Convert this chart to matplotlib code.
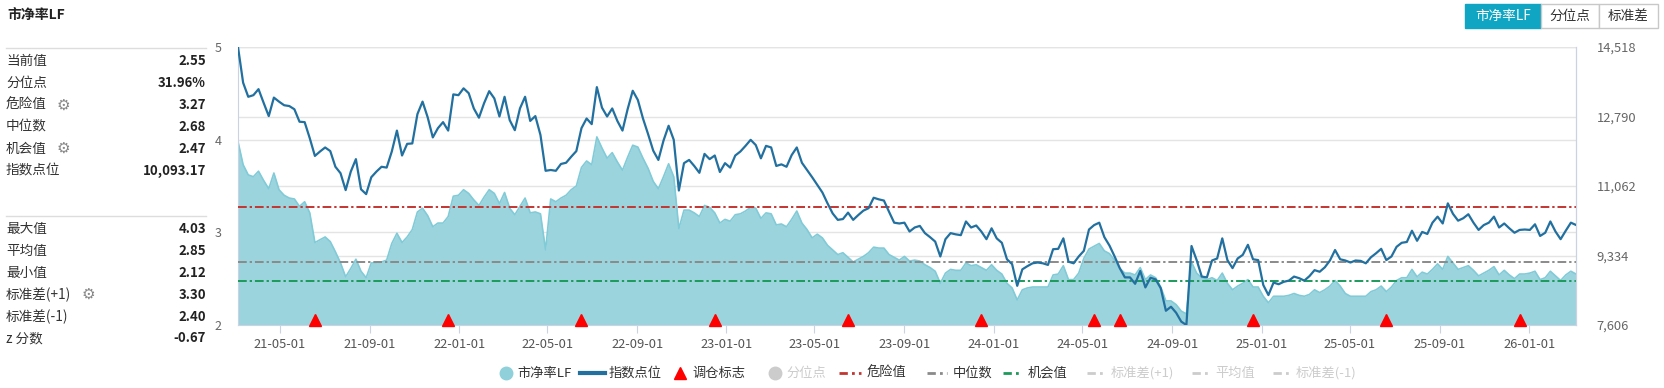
import matplotlib
matplotlib.use('Agg')
import matplotlib.pyplot as plt
import matplotlib.transforms as mtransforms
from matplotlib.lines import Line2D
from matplotlib.patches import Rectangle
import pandas as pd

plt.rcParams['font.family'] = ['Noto Sans CJK SC', 'DejaVu Sans']

# weekly PB (LF)
pb = [3.98, 3.73, 3.62, 3.60, 3.66, 3.56, 3.47, 3.64, 3.46, 3.40,
      3.37, 3.36, 3.28, 3.33, 3.21, 2.89, 2.92, 2.95, 2.90, 2.79,
      2.67, 2.52, 2.61, 2.71, 2.58, 2.51, 2.67, 2.67, 2.68, 2.70,
      2.88, 2.99, 2.89, 2.95, 3.03, 3.22, 3.26, 3.18, 3.06, 3.10,
      3.10, 3.17, 3.39, 3.40, 3.46, 3.42, 3.35, 3.29, 3.38, 3.46,
      3.42, 3.31, 3.43, 3.26, 3.19, 3.28, 3.37, 3.21, 3.22, 3.20,
      2.81, 3.36, 3.33, 3.37, 3.40, 3.46, 3.50, 3.70, 3.77, 3.73,
      4.03, 3.91, 3.80, 3.86, 3.76, 3.67, 3.81, 3.94, 3.92, 3.80,
      3.69, 3.55, 3.47, 3.60, 3.74, 3.60, 3.04, 3.24, 3.24, 3.21,
      3.17, 3.29, 3.27, 3.21, 3.10, 3.14, 3.12, 3.19, 3.20, 3.23,
      3.27, 3.26, 3.15, 3.21, 3.20, 3.08, 3.09, 3.06, 3.14, 3.23,
      3.10, 3.03, 2.94, 2.98, 2.94, 2.86, 2.81, 2.76, 2.78, 2.73,
      2.68, 2.71, 2.74, 2.78, 2.84, 2.83, 2.83, 2.76, 2.73, 2.70,
      2.74, 2.69, 2.70, 2.69, 2.65, 2.62, 2.58, 2.45, 2.56, 2.60,
      2.59, 2.59, 2.67, 2.64, 2.65, 2.62, 2.59, 2.65, 2.59, 2.55,
      2.45, 2.40, 2.27, 2.38, 2.40, 2.41, 2.41, 2.41, 2.41, 2.54,
      2.55, 2.64, 2.49, 2.49, 2.56, 2.72, 2.82, 2.85, 2.88, 2.80,
      2.77, 2.70, 2.61, 2.56, 2.56, 2.54, 2.62, 2.49, 2.54, 2.51,
      2.41, 2.26, 2.26, 2.22, 2.15, 2.12, 2.68, 2.56, 2.51, 2.49,
      2.51, 2.48, 2.56, 2.45, 2.38, 2.42, 2.45, 2.49, 2.41, 2.41,
      2.31, 2.24, 2.31, 2.31, 2.31, 2.32, 2.34, 2.32, 2.31, 2.33,
      2.38, 2.35, 2.38, 2.42, 2.48, 2.42, 2.34, 2.31, 2.31, 2.31,
      2.31, 2.36, 2.38, 2.42, 2.36, 2.41, 2.48, 2.51, 2.51, 2.60,
      2.52, 2.57, 2.55, 2.60, 2.66, 2.60, 2.74, 2.67, 2.60, 2.62,
      2.64, 2.59, 2.53, 2.56, 2.59, 2.63, 2.54, 2.59, 2.54, 2.50,
      2.55, 2.55, 2.56, 2.58, 2.49, 2.51, 2.58, 2.53, 2.48, 2.54,
      2.58, 2.55]

# weekly index close
idx = [14518, 13630, 13280, 13320, 13470, 13130, 12800, 13260, 13160, 13070,
       13050, 12970, 12660, 12650, 12250, 11810, 11920, 12020, 11930, 11540,
       11380, 10960, 11420, 11730, 10980, 10860, 11280, 11420, 11540, 11520,
       11920, 12440, 11820, 12110, 12120, 12850, 13160, 12770, 12270, 12500,
       12650, 12440, 13340, 13320, 13490, 13370, 12990, 12760, 13120, 13420,
       13240, 12790, 13280, 12700, 12450, 12990, 13280, 12680, 12800, 12330,
       11440, 11460, 11440, 11610, 11640, 11790, 11930, 12500, 12740, 12600,
       13520, 13010, 12790, 12990, 12680, 12440, 12970, 13430, 13200, 12740,
       12350, 11940, 11710, 12190, 12560, 12210, 10950, 11630, 11710, 11560,
       11390, 11860, 11730, 11820, 11410, 11630, 11520, 11820, 11920, 12060,
       12210, 12080, 11750, 12060, 12020, 11560, 11600, 11540, 11830, 12020,
       11640, 11460, 11280, 11090, 10900, 10630, 10380, 10220, 10240, 10400,
       10220, 10340, 10450, 10510, 10770, 10730, 10700, 10420, 10150, 10130,
       10150, 9930, 10030, 10070, 9890, 9790, 9680, 9310, 9740, 9890,
       9860, 9840, 10180, 10030, 10080, 9930, 9740, 10010, 9760, 9650,
       9240, 9120, 8580, 8990, 9070, 9140, 9160, 9140, 9100, 9490,
       9500, 9760, 9180, 9140, 9310, 9450, 9980, 10090, 10150, 9790,
       9580, 9310, 9020, 8790, 8790, 8630, 8950, 8540, 8780, 8740,
       8520, 7960, 8060, 7910, 7690, 7606, 9570, 9220, 8810, 8790,
       9210, 9260, 9760, 9220, 9020, 9260, 9350, 9600, 9240, 9220,
       8600, 8350, 8660, 8620, 8680, 8710, 8810, 8770, 8710, 8820,
       8970, 8930, 9040, 9210, 9470, 9240, 9210, 9160, 9210, 9200,
       9140, 9290, 9390, 9500, 9220, 9310, 9550, 9650, 9670, 9950,
       9700, 9920, 9870, 10150, 10300, 10130, 10630, 10370, 10200, 10260,
       10360, 10150, 9970, 10090, 10150, 10300, 10030, 10130, 10010, 9900,
       9970, 9980, 9970, 10110, 9820, 9900, 10180, 9930, 9740, 9950,
       10150, 10093.17]

dates = pd.date_range('2021-03-05', periods=len(pb), freq='7D')
rebalance = pd.to_datetime(['2021-06-18', '2021-12-17', '2022-06-17', '2022-12-16',
                            '2023-06-16', '2023-12-15', '2024-05-17', '2024-06-21',
                            '2024-12-20', '2025-06-20', '2025-12-19'])

danger, median, chance = 3.27, 2.68, 2.47
pb_ticks = [2, 3, 4, 5]
idx_ticks = [7606, 9334, 11062, 12790, 14518]
x_ticks = pd.date_range('2021-05-01', '2026-01-01', freq='4MS')

stats_top = [('当前值', '2.55'), ('分位点', '31.96%'), ('危险值', '3.27'),
             ('中位数', '2.68'), ('机会值', '2.47'), ('指数点位', '10,093.17')]
stats_bottom = [('最大值', '4.03'), ('平均值', '2.85'), ('最小值', '2.12'),
                ('标准差(+1)', '3.30'), ('标准差(-1)', '2.40'), ('z 分数', '-0.67')]
gear_x = {'危险值': 63, '机会值': 63, '标准差(+1)': 88}

W, H = 1664, 388
def fx(p):
    return p / W
def fy(p):
    return 1 - p / H

AXIS_C = '#c9d3e2'
TEAL = '#0fa5c3'

fig = plt.figure(figsize=(W / 100, H / 100), dpi=100, facecolor='white')
ax = fig.add_axes([fx(238), fy(325), fx(1576) - fx(238), fy(47) - fy(325)])

# grid (both scales), kept behind the area
for t in pb_ticks[1:]:
    ax.axhline(t, color='#e4e4e4', lw=1, zorder=0)
for t in idx_ticks[1:]:
    f = (t - idx_ticks[0]) / (idx_ticks[-1] - idx_ticks[0])
    ax.plot([0, 1], [f, f], transform=ax.transAxes, color='#e4e4e4', lw=1, zorder=0)

ax.fill_between(dates, pb, pb_ticks[0], color='#9cd4de', lw=0, zorder=1)
ax.plot(dates, pb, color='#80cbd7', lw=1.2, zorder=2)

dd = (4.5, 1.5, 1.2, 1.5)
ax.axhline(danger, color='#c23531', lw=1.4, dashes=dd, zorder=3)
ax.axhline(median, color='#8a8a8a', lw=1.4, dashes=dd, zorder=3)
ax.axhline(chance, color='#1d9a5b', lw=1.4, dashes=dd, zorder=3)

up = ax.transData + mtransforms.ScaledTranslation(0, 3.5 / 72, fig.dpi_scale_trans)
ax.plot(rebalance, [pb_ticks[0]] * len(rebalance), ls='none', marker='^', ms=8,
        color='#ff0000', transform=up, clip_on=False, zorder=6)

ax.set_xlim(dates[0], dates[-1])
ax.set_ylim(pb_ticks[0], pb_ticks[-1])
ax.set_yticks(pb_ticks)
ax.set_yticklabels([str(t) for t in pb_ticks])
ax.set_xticks(x_ticks)
ax.set_xticklabels([d.strftime('%y-%m-%d') for d in x_ticks])
ax.tick_params(axis='y', length=0, pad=12, labelsize=9, labelcolor='#666')
ax.tick_params(axis='x', length=6, color=AXIS_C, pad=3, labelsize=9.3, labelcolor='#555')
ax.spines['top'].set_visible(False)
for s in ['bottom', 'left', 'right']:
    ax.spines[s].set_color(AXIS_C)

ax2 = ax.twinx()
ax2.plot(dates, idx, color='#22709f', lw=1.6, zorder=4)
ax2.set_ylim(idx_ticks[0], idx_ticks[-1])
ax2.set_yticks(idx_ticks)
ax2.set_yticklabels([f'{t:,}' for t in idx_ticks])
ax2.tick_params(axis='y', length=0, pad=15, labelsize=9.3, labelcolor='#666')
for s in ['top', 'bottom', 'left']:
    ax2.spines[s].set_visible(False)
ax2.spines['right'].set_color(AXIS_C)

# left stats panel
fig.text(fx(7), fy(15), '市净率LF', fontsize=10, fontweight='bold', color='#222', va='center')
for y0, rows in [(61, stats_top), (229, stats_bottom)]:
    fig.add_artist(Line2D([fx(6), fx(206)], [fy(y0 - 13), fy(y0 - 13)], color='#dddddd', lw=1))
    for k, (lab, val) in enumerate(rows):
        y = y0 + 21.9 * k
        fig.text(fx(6), fy(y), lab, fontsize=9.8, color='#333', va='center')
        fig.text(fx(206), fy(y), val, fontsize=9.5, fontweight='bold', color='#222',
                 va='center', ha='right')
        if lab in gear_x:
            fig.text(fx(gear_x[lab]), fy(y), '⚙', family='DejaVu Sans', fontsize=11,
                     color='#888', va='center', ha='center')

# buttons
buttons = [('市净率LF', 1465, 1541), ('分位点', 1541, 1599), ('标准差', 1599, 1658)]
for k, (lab, x0, x1) in enumerate(buttons):
    fig.add_artist(Rectangle((fx(x0), fy(28)), fx(x1) - fx(x0), fy(4) - fy(28),
                             transform=fig.transFigure,
                             facecolor=TEAL if k == 0 else 'white',
                             edgecolor=TEAL if k == 0 else '#c8c8c8', lw=1))
    fig.text(fx((x0 + x1) / 2), fy(16), lab, fontsize=9.8, ha='center', va='center',
             color='white' if k == 0 else '#333')

# legend
ly = fy(373)
GREY = '#cccccc'
def leg_text(x, s, c):
    fig.text(fx(x), ly, s, fontsize=9.5, color=c, va='center')

fig.add_artist(Line2D([fx(506)], [ly], marker='o', ms=9, color='#8fd0da', ls='none'))
leg_text(517, '市净率LF', '#333')
fig.add_artist(Line2D([fx(580), fx(605)], [ly, ly], color='#22709f', lw=3))
leg_text(609, '指数点位', '#333')
fig.add_artist(Line2D([fx(680)], [ly], marker='^', ms=9, color='#ff0000', ls='none'))
leg_text(692, '调仓标志', '#333')
fig.add_artist(Line2D([fx(775)], [ly], marker='o', ms=9, color=GREY, ls='none'))
leg_text(786, '分位点', GREY)
for x0, x1, c, s, tc in [(839, 861, '#c23531', '危险值', '#333'),
                         (927, 947, '#8a8a8a', '中位数', '#333'),
                         (1003, 1022, '#1d9a5b', '机会值', '#333'),
                         (1087, 1105, GREY, '标准差(+1)', GREY),
                         (1192, 1209, GREY, '平均值', GREY),
                         (1273, 1290, GREY, '标准差(-1)', GREY)]:
    fig.add_artist(Line2D([fx(x0), fx(x1)], [ly, ly], color=c, lw=2, dashes=(3, 1.5, 1, 1.5)))
    leg_text(x1 + 6, s, tc)

fig.savefig('out.png', dpi=100, facecolor='white')
